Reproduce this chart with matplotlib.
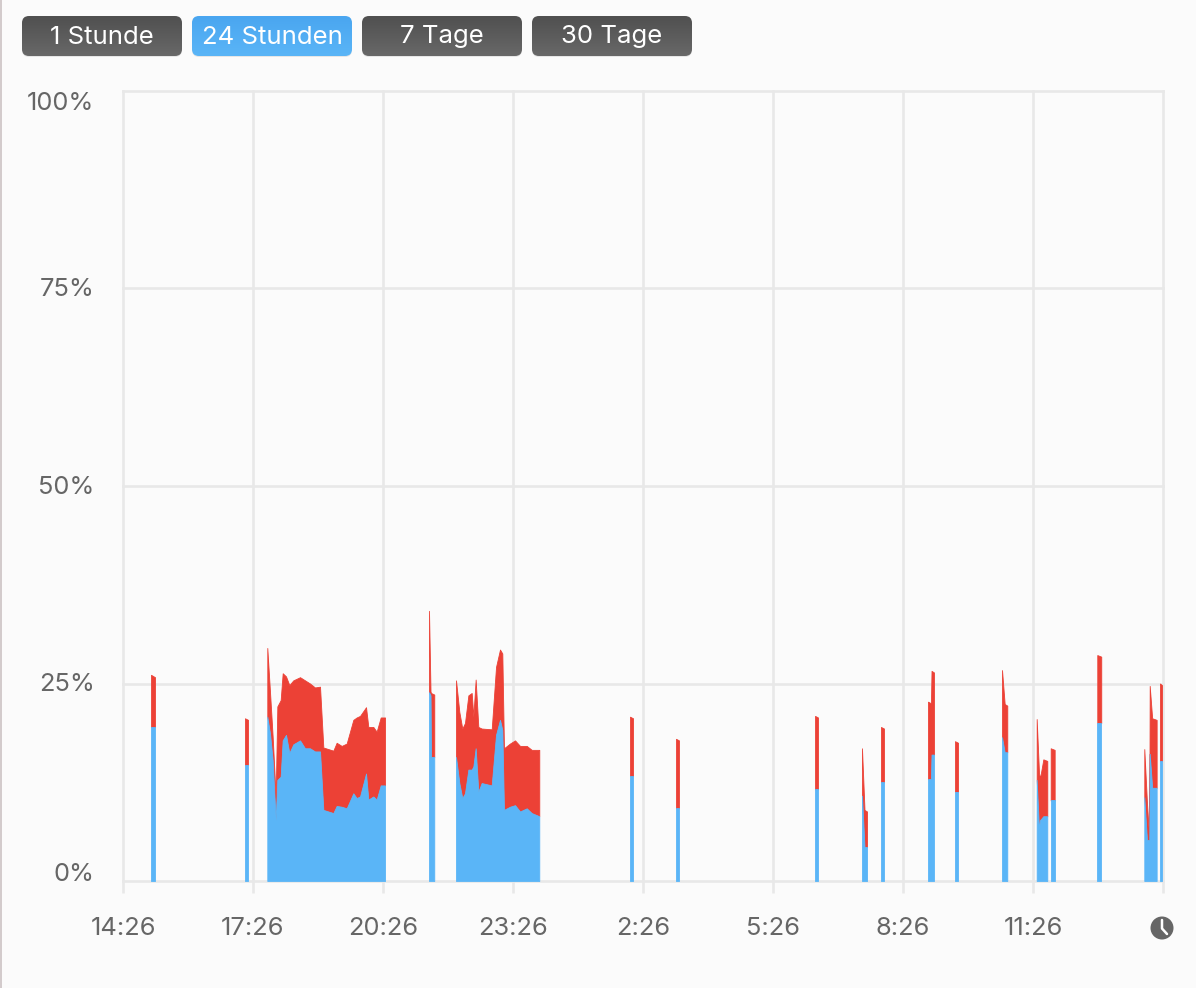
import numpy as np
import matplotlib
matplotlib.use("Agg")
import matplotlib.pyplot as plt
from matplotlib.patches import FancyBboxPatch, Circle, Rectangle
from matplotlib.transforms import ScaledTranslation

plt.rcParams['font.family'] = ['Inter', 'DejaVu Sans']

button_labels = ["1 Stunde", "24 Stunden", "7 Tage", "30 Tage"]
active_button = "24 Stunden"
x_tick_minutes = [0, 180, 360, 540, 720, 900, 1080, 1260, 1440]
x_tick_labels = ["14:26", "17:26", "20:26", "23:26", "2:26", "5:26", "8:26", "11:26", ""]
y_tick_values = [0, 25, 50, 75, 100]
y_tick_labels = ["0%", "25%", "50%", "75%", "100%"]

# minutes after 14:26, lower (blue) series and stacked total (red top), in percent
t_a = [38.8, 44.3]; blue_a = [19.5, 19.5]; top_a = [26.1, 25.8]
t_b = [168.9, 173.1]; blue_b = [14.7, 14.7]; top_b = [20.6, 20.4]
t_c = [199.8, 203.5, 207.2, 211.4, 213.7, 218.3, 221.1, 225.7, 230.3, 235.8, 245.1, 252, 258.9, 265.8, 272.8,
       277.4, 291.2, 295.8, 302.8, 309.7, 318.9, 323.5, 328.2, 336.5, 339.7, 346.6, 351.2, 356.8, 362.8]
blue_c = [20.8, 18.7, 15.3, 7.7, 12.8, 13.2, 17.8, 18.5, 16.2, 17.3, 17.8, 16.8, 16.8, 16.4, 16.4,
          9.0, 8.6, 9.5, 9.4, 9.2, 11.1, 10.5, 10.7, 13.6, 10.3, 10.7, 10.3, 12.1, 12.1]
top_c = [29.5, 24.0, 18.3, 10.7, 22.1, 22.9, 26.3, 25.9, 24.8, 25.4, 25.8, 25.4, 25.0, 24.5, 24.6,
         16.9, 16.5, 17.5, 17.1, 17.4, 20.4, 20.7, 20.9, 22.0, 19.5, 19.5, 18.9, 20.7, 20.7]
t_d = [423.7, 425.8, 426.5, 431]; blue_d = [23.9, 23.5, 15.7, 15.7]; top_d = [34.2, 24.0, 23.8, 23.6]
t_e = [461.1, 465.7, 469.8, 473.5, 478.2, 482.8, 485.1, 488.3, 492, 496.6, 510.5, 516.5, 522, 525.2,
       527.5, 535.8, 542.8, 549.7, 559, 565.9, 576.4]
blue_e = [15.7, 12.4, 10.5, 11.1, 14.1, 14.1, 14.5, 16.8, 11.3, 12.4, 12.1, 18.5, 20.4, 19.1,
          9.0, 9.4, 9.6, 8.8, 9.2, 8.6, 8.2]
top_e = [25.4, 21.4, 19.3, 20.0, 23.5, 23.8, 20.8, 25.5, 19.5, 19.3, 19.2, 27.1, 29.3, 28.8,
         16.8, 17.4, 17.8, 17.1, 17.1, 16.6, 16.6]
t_f = [702, 706.2]; blue_f = [13.3, 13.3]; top_f = [20.8, 20.6]
t_g = [765.7, 769.8]; blue_g = [9.2, 9.2]; top_g = [18.0, 17.8]
t_h = [958.2, 962.3]; blue_h = [11.6, 11.6]; top_h = [20.9, 20.7]
t_i = [1023.2, 1026.7, 1030.2]; blue_i = [10.8, 4.3, 4.3]; top_i = [16.8, 9.0, 8.8]
t_j = [1049.5, 1053.7]; blue_j = [12.5, 12.5]; top_j = [19.5, 19.3]
t_k = [1114.6, 1118.7, 1119.5, 1122.9]; blue_k = [12.9, 12.9, 16.0, 16.0]; top_k = [22.7, 22.5, 26.6, 26.4]
t_l = [1152, 1156.2]; blue_l = [11.3, 11.3]; top_l = [17.7, 17.5]
t_m = [1217.1, 1220.8, 1224.4]; blue_m = [18.2, 16.3, 16.3]; top_m = [26.7, 22.4, 22.2]
t_n = [1265.1, 1268.3, 1269.7, 1274.3, 1279.8]; blue_n = [12.8, 6.5, 7.7, 8.2, 8.2]; top_n = [20.5, 13.7, 13.0, 15.4, 15.2]
t_o = [1284.5, 1290]; blue_o = [10.2, 10.2]; top_o = [16.8, 16.6]
t_p = [1349, 1354.5]; blue_p = [20.0, 20.0]; top_p = [28.6, 28.4]
t_q = [1414.1, 1417.8, 1421, 1421.6, 1425, 1431.2]; blue_q = [10.6, 5.2, 5.2, 16.1, 11.8, 11.8]; top_q = [16.7, 9.9, 5.2, 24.7, 20.6, 20.4]
t_r = [1435.8, 1438.6]; blue_r = [15.2, 15.2]; top_r = [25.0, 24.8]

segments = [(t_a, blue_a, top_a), (t_b, blue_b, top_b), (t_c, blue_c, top_c), (t_d, blue_d, top_d),
            (t_e, blue_e, top_e), (t_f, blue_f, top_f), (t_g, blue_g, top_g), (t_h, blue_h, top_h),
            (t_i, blue_i, top_i), (t_j, blue_j, top_j), (t_k, blue_k, top_k), (t_l, blue_l, top_l),
            (t_m, blue_m, top_m), (t_n, blue_n, top_n), (t_o, blue_o, top_o), (t_p, blue_p, top_p),
            (t_q, blue_q, top_q), (t_r, blue_r, top_r)]

W, H = 1196, 988
BG = "#FBFBFB"; GRID = "#E8E8E8"; TXT = "#666666"; BLUE = "#5AB5F7"; RED = "#EC4136"
fig = plt.figure(figsize=(W / 100, H / 100), dpi=100, facecolor=BG)

ax = fig.add_axes([123 / W, 1 - 881 / H, 1040 / W, 790 / H], facecolor=BG)
ax.set_xlim(0, 1440)
ax.set_ylim(0, 100)
for s in ax.spines.values():
    s.set_visible(False)
ax.set_axisbelow(True)
ax.set_xticks(x_tick_minutes, x_tick_labels)
ax.set_yticks(y_tick_values, y_tick_labels)
ax.grid(True, color=GRID, linewidth=1.9)
for line in ax.get_xgridlines() + ax.get_ygridlines():
    line.set_clip_on(False)
ax.tick_params(axis='x', length=8.6, width=1.9, color=GRID, labelcolor=TXT, labelsize=18.3, pad=17)
ax.tick_params(axis='y', length=0, labelcolor=TXT, labelsize=18.3, pad=20.5)
for lab, v in zip(ax.get_yticklabels(), y_tick_values):
    lab.set_verticalalignment({0: 'bottom', 100: 'top'}.get(v, 'center'))
    shift = {0: -5 / 100, 100: -1.5 / 100}.get(v, -1 / 100)
    lab.set_transform(lab.get_transform() + ScaledTranslation(0, shift, fig.dpi_scale_trans))

for t, b, top in segments:
    ax.fill_between(t, b, top, color=RED, linewidth=0.6, zorder=3)
    ax.fill_between(t, 0, b, color=BLUE, linewidth=0.6, zorder=4)

# interface layer in pixel coordinates
ui = fig.add_axes([0, 0, 1, 1], facecolor='none', zorder=5)
ui.set_xlim(0, W)
ui.set_ylim(H, 0)
ui.axis('off')
ui.add_patch(Rectangle((0, 0), 2, H, color="#D3CBCC", lw=0))

lefts = [22, 192, 362, 532]
for left, label in zip(lefts, button_labels):
    on = label == active_button
    cols = ("#4AA6F0", "#5AB5F7") if on else ("#505050", "#686868")
    grad = np.linspace(0, 1, 64)[:, None]
    rgb = matplotlib.colors.LinearSegmentedColormap.from_list("g", cols)
    ui.add_patch(FancyBboxPatch((left, 17), 160, 40, boxstyle="round,pad=0,rounding_size=7",
                                fc="#E6E6E6", ec="none"))
    im = ui.imshow(grad, cmap=rgb, extent=(left, left + 160, 56, 16), aspect='auto', zorder=2)
    clip = FancyBboxPatch((left, 16), 160, 40, boxstyle="round,pad=0,rounding_size=7",
                          fc="none", ec="none", transform=ui.transData)
    ui.add_patch(clip)
    im.set_clip_path(clip)
    ui.text(left + 80, 37, label, color="white", fontsize=18.5, ha='center', va='center', zorder=3)
ui.set_xlim(0, W)
ui.set_ylim(H, 0)

ui.add_patch(Circle((1162, 928), 11.5, fc=TXT, ec="none"))
ui.plot([1162, 1162, 1167], [920, 928.5, 934], color="white", lw=1.8, solid_capstyle='round')

fig.savefig("out.png", dpi=100, facecolor=BG)
